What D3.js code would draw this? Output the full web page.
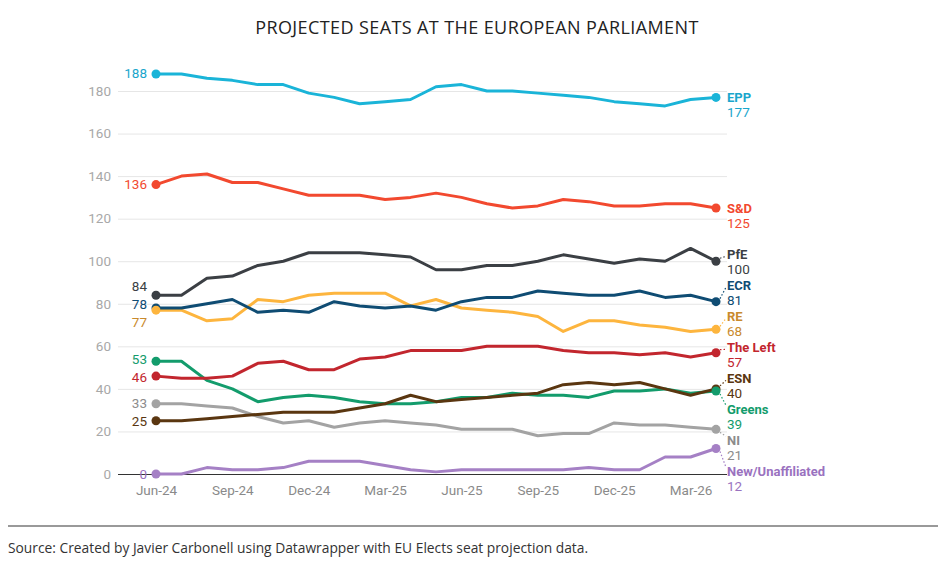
<!DOCTYPE html>
<html>
<head>
<meta charset="utf-8">
<script src="https://cdn.jsdelivr.net/npm/d3@7"></script>
<style>
  body { margin: 0; background: #fff; }
  svg { display: block; }
  .tick text { font-family: Roboto, sans-serif; }
</style>
</head>
<body>
<svg width="946" height="565"></svg>
<script>
// monthly projections, Jun-24 .. Apr-26
const months = ["Jun-24", "Jul-24", "Aug-24", "Sep-24", "Oct-24", "Nov-24", "Dec-24", "Jan-25",
  "Feb-25", "Mar-25", "Apr-25", "May-25", "Jun-25", "Jul-25", "Aug-25", "Sep-25", "Oct-25",
  "Nov-25", "Dec-25", "Jan-26", "Feb-26", "Mar-26", "Apr-26"];
const tickMonths = ["Jun-24", "Sep-24", "Dec-24", "Mar-25", "Jun-25", "Sep-25", "Dec-25", "Mar-26"];
const yTicks = [0, 20, 40, 60, 80, 100, 120, 140, 160, 180];

const groups = ["EPP", "S&D", "PfE", "ECR", "RE", "The Left", "ESN", "Greens", "NI", "New/Unaffiliated"];

const epp = [188, 188, 186, 185, 183, 183, 179, 177, 174, 175, 176, 182, 183, 180, 180, 179, 178, 177, 175, 174, 173, 176, 177];
const sd = [136, 140, 141, 137, 137, 134, 131, 131, 131, 129, 130, 132, 130, 127, 125, 126, 129, 128, 126, 126, 127, 127, 125];
const pfe = [84, 84, 92, 93, 98, 100, 104, 104, 104, 103, 102, 96, 96, 98, 98, 100, 103, 101, 99, 101, 100, 106, 100];
const ecr = [78, 78, 80, 82, 76, 77, 76, 81, 79, 78, 79, 77, 81, 83, 83, 86, 85, 84, 84, 86, 83, 84, 81];
const re = [77, 77, 72, 73, 82, 81, 84, 85, 85, 85, 79, 82, 78, 77, 76, 74, 67, 72, 72, 70, 69, 67, 68];
const left = [46, 45, 45, 46, 52, 53, 49, 49, 54, 55, 58, 58, 58, 60, 60, 60, 58, 57, 57, 56, 57, 55, 57];
const esn = [25, 25, 26, 27, 28, 29, 29, 29, 31, 33, 37, 34, 35, 36, 37, 38, 42, 43, 42, 43, 40, 37, 40];
const greens = [53, 53, 44, 40, 34, 36, 37, 36, 34, 33, 33, 34, 36, 36, 38, 37, 37, 36, 39, 39, 40, 38, 39];
const ni = [33, 33, 32, 31, 27, 24, 25, 22, 24, 25, 24, 23, 21, 21, 21, 18, 19, 19, 24, 23, 23, 22, 21];
const newUnaff = [0, 0, 3, 2, 2, 3, 6, 6, 6, 4, 2, 1, 2, 2, 2, 2, 2, 3, 2, 2, 8, 8, 12];

const values = [epp, sd, pfe, ecr, re, left, esn, greens, ni, newUnaff];
const lineColors = ["#1ab4d8", "#f2492f", "#3b3f44", "#0f4c73", "#fdb53e", "#c2262e", "#5a3610", "#139c6c", "#a3a3a3", "#a580c5"];
const textColors = ["#1aa6cc", "#f2492f", "#3b3f44", "#0f4c73", "#c98a2c", "#c2262e", "#5a3610", "#139c6c", "#8c8c8c", "#9a72bf"];

const series = groups.map((g, i) => ({ name: g, values: values[i], color: lineColors[i], text: textColors[i] }));

const svg = d3.select("svg");

const x = d3.scalePoint().domain(months).range([156, 716]);
const y = d3.scaleLinear().domain([0, 180]).range([474, 91]);

// title
svg.append("text")
  .attr("x", 477).attr("y", 34)
  .attr("text-anchor", "middle")
  .style("font-family", "'Open Sans', sans-serif")
  .style("font-size", "18px")
  .style("letter-spacing", "0.4px")
  .attr("fill", "#222")
  .text("PROJECTED SEATS AT THE EUROPEAN PARLIAMENT");

// grid + y labels
const yAxis = svg.append("g")
  .attr("transform", "translate(118,0)")
  .call(d3.axisLeft(y).tickValues(yTicks).tickSize(-609).tickPadding(7));
yAxis.select(".domain").remove();
yAxis.selectAll(".tick line").attr("stroke", d => d === 0 ? "#333" : "#e6e6e6").attr("stroke-width", d => d === 0 ? 1.2 : 1);
yAxis.selectAll(".tick text").attr("fill", "#a8a8a8").style("font-size", "13.5px");

// x axis labels
const xAxis = svg.append("g")
  .attr("transform", "translate(0,474)")
  .call(d3.axisBottom(x).tickValues(tickMonths).tickSize(0).tickPadding(11));
xAxis.select(".domain").remove();
xAxis.selectAll(".tick text").attr("fill", "#8a8a8a").style("font-size", "13.5px");

// lines
const line = d3.line().x((d, i) => x(months[i])).y(d => y(d));

const plot = svg.append("g");
plot.selectAll(".line")
  .data(series.slice().reverse())
  .enter()
  .append("path")
  .attr("fill", "none")
  .attr("stroke", d => d.color)
  .attr("stroke-width", 3)
  .attr("stroke-linejoin", "round")
  .attr("d", d => line(d.values));

// end points
const last = months.length - 1;
series.forEach(s => {
  [0, last].forEach(i => {
    plot.append("circle")
      .attr("cx", x(months[i])).attr("cy", y(s.values[i]))
      .attr("r", 4.5).attr("fill", s.color);
  });
});

// spread labels apart: merge overlapping ones into clusters centred on their mean
function spread(targets, gap) {
  const items = targets.map((t, i) => ({ i, t })).sort((a, b) => a.t - b.t);
  let clusters = items.map(it => ({ members: [it], pos: it.t }));
  let moved = true;
  while (moved) {
    moved = false;
    for (let k = 0; k < clusters.length - 1; k++) {
      const a = clusters[k], b = clusters[k + 1];
      const aEnd = a.pos + (a.members.length - 1) * gap;
      if (b.pos - aEnd < gap) {
        const members = a.members.concat(b.members);
        const mean = d3.mean(members, m => m.t);
        clusters.splice(k, 2, { members, pos: mean - (members.length - 1) * gap / 2 });
        moved = true;
        break;
      }
    }
  }
  const out = [];
  clusters.forEach(c => c.members.forEach((m, j) => { out[m.i] = c.pos + j * gap; }));
  return out;
}

// right labels
const endY = series.map(s => y(s.values[last]));
const labelY = spread(endY, 31);
const ex = x(months[last]);

series.forEach((s, i) => {
  const ly = labelY[i];
  if (Math.abs(ly - endY[i]) > 3) {
    svg.append("line")
      .attr("x1", ex + 4).attr("y1", endY[i] + (ly < endY[i] ? -3 : 3))
      .attr("x2", ex + 10).attr("y2", ly + (ly < endY[i] ? 2 : -4))
      .attr("stroke", s.color).attr("stroke-width", 1.2)
      .attr("stroke-dasharray", "1.5,2");
  }
  svg.append("text")
    .attr("x", 727).attr("y", ly + 4.5)
    .style("font-family", "Roboto, sans-serif")
    .style("font-size", "13px").style("font-weight", "700")
    .attr("fill", s.text)
    .text(s.name);
  svg.append("text")
    .attr("x", 727).attr("y", ly + 20)
    .style("font-family", "Roboto, sans-serif")
    .style("font-size", "13.5px")
    .attr("fill", s.text)
    .text(s.values[last]);
});

// left start labels
const startY = series.map(s => y(s.values[0]));
const startLabelY = spread(startY, 18);
series.forEach((s, i) => {
  svg.append("text")
    .attr("x", 147).attr("y", startLabelY[i] + 4.5)
    .attr("text-anchor", "end")
    .style("font-family", "Roboto, sans-serif")
    .style("font-size", "13.5px")
    .attr("fill", s.text)
    .text(s.values[0]);
});

// footer
svg.append("line")
  .attr("x1", 8).attr("x2", 938).attr("y1", 526).attr("y2", 526)
  .attr("stroke", "#777").attr("stroke-width", 1.5);
svg.append("text")
  .attr("x", 8).attr("y", 553)
  .style("font-family", "'Open Sans', sans-serif")
  .style("font-size", "13.8px")
  .attr("fill", "#333")
  .text("Source: Created by Javier Carbonell using Datawrapper with EU Elects seat projection data.");
</script>
</body>
</html>
